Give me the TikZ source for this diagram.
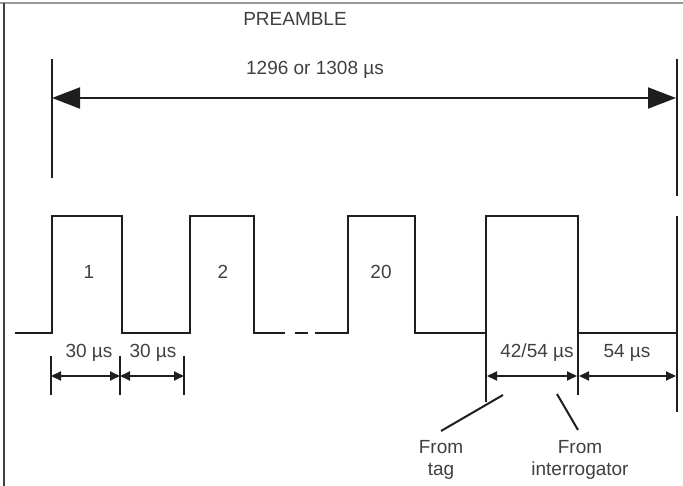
\documentclass[tikz,border=0pt]{standalone}
\usepackage{fontspec}
\setmainfont{Liberation Sans}
\usetikzlibrary{arrows.meta}

\definecolor{inkcol}{HTML}{1E1E1E}
\definecolor{txtcol}{HTML}{404040}

\tikzset{
  wave/.style={draw=inkcol, line width=2pt},
  tick/.style={draw=inkcol, line width=2pt},
  dimarrow/.style={draw=inkcol, line width=2pt, {Triangle[length=10pt,width=9pt]}-{Triangle[length=10pt,width=9pt]}},
  bigarrow/.style={draw=inkcol, line width=2pt, {Triangle[length=28pt,width=21pt]}-{Triangle[length=28pt,width=21pt]}},
  lbl/.style={text=txtcol, font=\fontsize{19}{22}\selectfont, inner sep=0pt, align=center}
}

\begin{document}
\begin{tikzpicture}[x=1pt, y=-1pt]
\useasboundingbox (0,0) rectangle (683,486);

% Frame
\draw[gray!80, line width=2pt] (0,3) -- (683,3);
\draw[darkgray, line width=2pt] (4,3) -- (4,486);

% Preamble span
\node[lbl] (preamble) at (295,19) {PREAMBLE};
\node[lbl] (total) at (315,70) {1296 or 1308 µs};
\coordinate (barL) at (52,98);
\coordinate (barR) at (676,98);
\draw[tick] (52,59) -- (52,178);
\draw[tick] (677,59) -- (677,196);
\draw[bigarrow] (barL) -- (barR);

% Pulses 1, 2 and 20
\draw[wave] (15,333) -- (52,333) -- (52,216) -- (122,216) -- (122,333)
  -- (190,333) -- (190,216) -- (254,216) -- (254,333) -- (285,333);
\draw[wave] (295,333) -- (308,333);
\draw[wave] (315,333) -- (348,333) -- (348,216) -- (415,216) -- (415,333) -- (486,333);
\node[lbl] (p1) at (89,272) {1};
\node[lbl] (p2) at (223,272) {2};
\node[lbl] (p20) at (381,272) {20};

% Last pulse and end
\draw[wave] (486,402) -- (486,216) -- (578,216) -- (578,395);
\draw[wave] (578,333) -- (676,333);
\draw[tick] (677,216) -- (677,412);

% 30 us spacing
\coordinate (t1) at (51,376);
\coordinate (t2) at (120,376);
\coordinate (t3) at (184,376);
\foreach \x in {51,120,184}
  \draw[tick] (\x,356) -- (\x,395);
\draw[dimarrow] (t1) -- (t2);
\draw[dimarrow] (t2) -- (t3);
\node[lbl] (d1) at (89,353) {30 µs};
\node[lbl] (d2) at (153,353) {30 µs};

% Reply spacing
\coordinate (r1) at (487,376);
\coordinate (r2) at (577,376);
\coordinate (r3) at (579,376);
\coordinate (r4) at (676,376);
\draw[dimarrow] (r1) -- (r2);
\draw[dimarrow] (r3) -- (r4);
\node[lbl] (d3) at (537,353) {42/54 µs};
\node[lbl] (d4) at (627,353) {54 µs};

% Sources
\node[lbl] (tag) at (441,460) {From\\tag};
\node[lbl] (intg) at (580,460) {From\\interrogator};
\coordinate (tagpt) at (503,395);
\coordinate (intpt) at (557,394);
\draw[tick] (tagpt) -- (441,431);
\draw[tick] (intpt) -- (578,430);
\end{tikzpicture}
\end{document}
